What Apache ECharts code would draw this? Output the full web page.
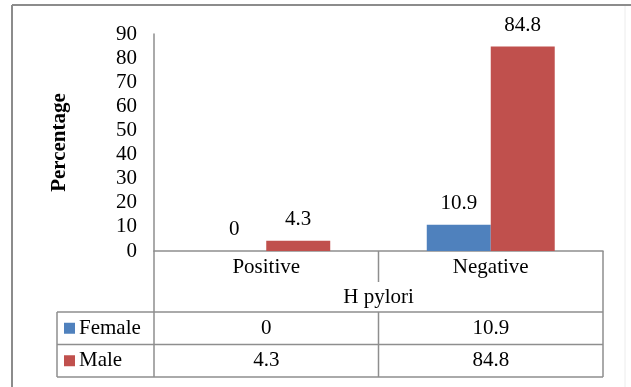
<!DOCTYPE html>
<html>
<head>
<meta charset="utf-8">
<script src="https://cdn.jsdelivr.net/npm/echarts@6/dist/echarts.min.js"></script>
<style>
  html, body { margin: 0; padding: 0; background: #ffffff; }
  #chart { width: 631px; height: 387px; }
</style>
</head>
<body>
<div id="chart"></div>
<script>
// Chart data
const categories = ['Positive', 'Negative'];
const seriesNames = ['Female', 'Male'];
const femaleValues = [0, 10.9];
const maleValues = [4.3, 84.8];
const yMin = 0;
const yMax = 90;
const yStep = 10;
const yAxisTitle = 'Percentage';
const xAxisTitle = 'H pylori';

const colors = ['#4F81BD', '#C0504D'];
const lineColor = '#8e8e8e';
const fontFamily = "'Liberation Serif', 'Times New Roman', serif";
const fontSize = 21;

const chart = echarts.init(document.getElementById('chart'), null, { renderer: 'canvas' });

const labelStyle = {
  show: true,
  position: 'top',
  distance: 11,
  color: '#000',
  fontFamily: fontFamily,
  fontSize: fontSize
};

chart.setOption({
  animation: false,
  backgroundColor: '#ffffff',
  grid: { left: 154, top: 34, width: 449, height: 217 },
  xAxis: {
    type: 'category',
    data: categories,
    axisLine: { show: true, lineStyle: { color: lineColor, width: 1.5 } },
    axisTick: { show: false },
    axisLabel: { color: '#000', fontFamily: fontFamily, fontSize: fontSize, margin: 6, verticalAlign: 'top' },
    name: xAxisTitle,
    nameLocation: 'middle',
    nameGap: 36,
    nameTextStyle: { color: '#000', fontFamily: fontFamily, fontSize: fontSize, verticalAlign: 'top' }
  },
  yAxis: {
    type: 'value',
    min: yMin,
    max: yMax,
    interval: yStep,
    axisLine: { show: true, lineStyle: { color: lineColor, width: 1.5 } },
    axisTick: { show: false },
    splitLine: { show: false },
    axisLabel: { color: '#000', fontFamily: fontFamily, fontSize: fontSize, margin: 17 },
    name: yAxisTitle,
    nameLocation: 'middle',
    nameRotate: 90,
    nameGap: 84,
    nameTextStyle: { color: '#000', fontFamily: fontFamily, fontSize: fontSize, fontWeight: 'bold' }
  },
  series: [
    {
      name: seriesNames[0],
      type: 'bar',
      data: femaleValues,
      barGap: '0%',
      barCategoryGap: '43%',
      itemStyle: { color: colors[0] },
      label: labelStyle
    },
    {
      name: seriesNames[1],
      type: 'bar',
      data: maleValues,
      barGap: '0%',
      barCategoryGap: '43%',
      itemStyle: { color: colors[1] },
      label: labelStyle
    }
  ]
});

// Data table under the plot, positioned from the axes
function buildTable() {
  const c0 = chart.convertToPixel({ xAxisIndex: 0 }, categories[0]);
  const c1 = chart.convertToPixel({ xAxisIndex: 0 }, categories[1]);
  const step = c1 - c0;
  const left = c0 - step / 2;
  const right = c1 + step / 2;
  const top = chart.convertToPixel({ yAxisIndex: 0 }, yMax);
  const y0 = chart.convertToPixel({ yAxisIndex: 0 }, 0);

  const headerH = 61;
  const rowH = 32.5;
  const rowsTop = y0 + headerH;
  const tableBottom = rowsTop + rowH * seriesNames.length;
  const legendLeft = 57;

  const lineStyle = { stroke: lineColor, lineWidth: 1.5 };
  const els = [];
  const line = (x1, y1, x2, y2, style) => els.push({
    type: 'line', shape: { x1, y1, x2, y2 }, style: style || lineStyle, silent: true
  });

  // frame around the chart
  line(12, 5, 631, 5, { stroke: '#8c8c8c', lineWidth: 2 });
  line(12, 5, 12, 387, { stroke: '#8c8c8c', lineWidth: 2 });
  line(625, 6, 625, 387, { stroke: '#ececec', lineWidth: 1 });

  // table grid
  line(left, y0, left, tableBottom);
  line(right, y0, right, tableBottom);
  line(c0 + step / 2, y0, c0 + step / 2, y0 + 31);
  line(c0 + step / 2, rowsTop, c0 + step / 2, tableBottom);
  line(legendLeft, rowsTop, legendLeft, tableBottom);
  for (let i = 0; i <= seriesNames.length; i++) {
    line(legendLeft, rowsTop + rowH * i, right, rowsTop + rowH * i);
  }

  const rows = [femaleValues, maleValues];
  seriesNames.forEach((name, i) => {
    const cy = rowsTop + rowH * i + rowH / 2;
    els.push({
      type: 'rect', shape: { x: 64, y: cy - 5.5, width: 11, height: 11 },
      style: { fill: colors[i] }, silent: true
    });
    els.push({
      type: 'text', x: 79, y: cy,
      style: { text: name, fill: '#000', font: fontSize + 'px ' + fontFamily, textAlign: 'left', textVerticalAlign: 'middle' },
      silent: true
    });
    rows[i].forEach((v, j) => {
      const cx = chart.convertToPixel({ xAxisIndex: 0 }, categories[j]);
      els.push({
        type: 'text', x: cx, y: cy,
        style: { text: String(v), fill: '#000', font: fontSize + 'px ' + fontFamily, textAlign: 'center', textVerticalAlign: 'middle' },
        silent: true
      });
    });
  });

  chart.setOption({ graphic: { elements: els } });
}

buildTable();
</script>
</body>
</html>
